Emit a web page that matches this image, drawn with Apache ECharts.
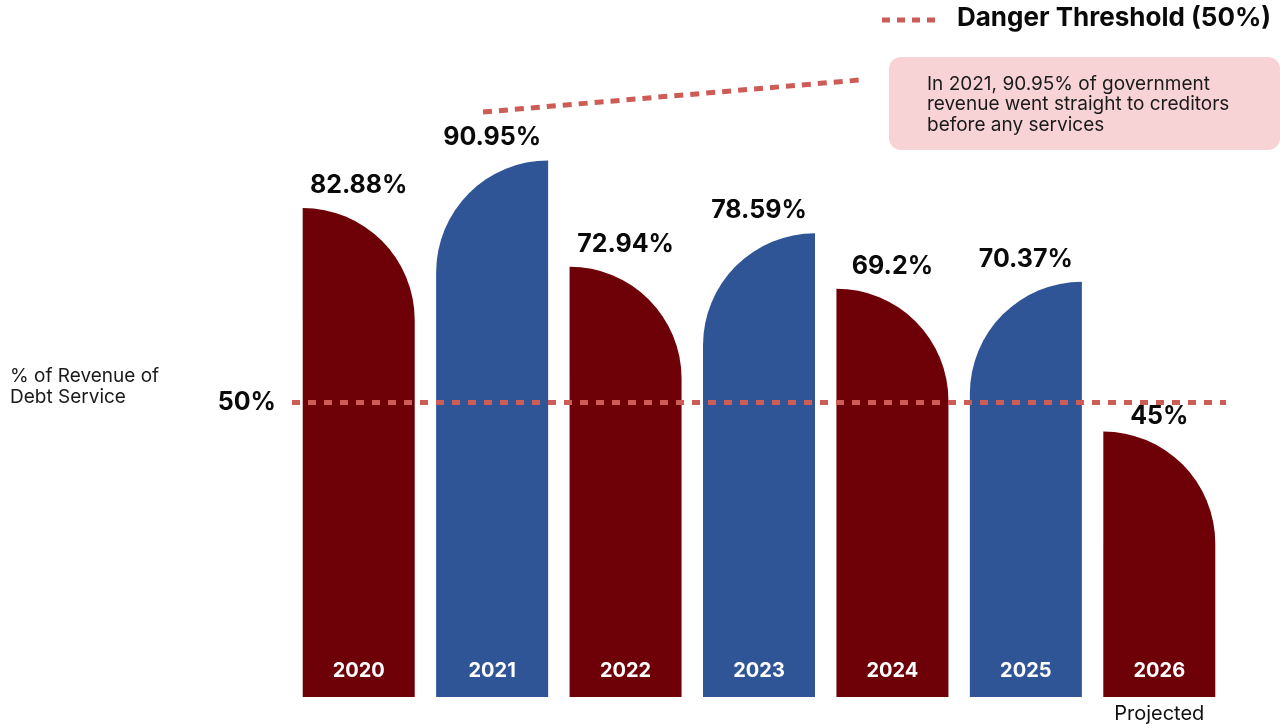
<!DOCTYPE html>
<html>
<head>
<meta charset="utf-8">
<title>Debt Service as % of Revenue</title>
<script src="https://cdn.jsdelivr.net/npm/echarts@6/dist/echarts.min.js"></script>
<style>
  html, body { margin: 0; padding: 0; background: #ffffff; }
  #chart { width: 1280px; height: 728px; }
</style>
</head>
<body>
<div id="chart"></div>
<script>
// Share of government revenue spent on debt service, by year
const years = ['2020', '2021', '2022', '2023', '2024', '2025', '2026'];
const debtServicePct = [82.88, 90.95, 72.94, 78.59, 69.2, 70.37, 45];
const thresholdPct = 50;
const projectedYear = '2026';
const yAxisTitle = ['% of Revenue of', 'Debt Service'];
const legendText = 'Danger Threshold (50%)';
const noteLines = [
  'In 2021, 90.95% of government',
  'revenue went straight to creditors',
  'before any services'
];

const RED = '#6e0008';
const BLUE = '#2f5597';
const DASH = '#cd5c57';
const FONT = 'Inter, "Noto Sans", sans-serif';
const BAR_W = 112;

// Alternate colour and rounded corner: red bars round the top-right, blue the top-left
const barItems = debtServicePct.map((v, i) => {
  const even = i % 2 === 0;
  return {
    value: v,
    itemStyle: {
      color: even ? RED : BLUE,
      borderRadius: even ? [0, BAR_W, 0, 0] : [BAR_W, 0, 0, 0]
    },
    label: { distance: years[i] === projectedYear ? 3 : 10 }
  };
});

const chart = echarts.init(document.getElementById('chart'), null, { renderer: 'canvas' });

chart.setOption({
  animation: false,
  backgroundColor: '#ffffff',
  grid: { left: 292, right: 54, top: 107, bottom: 31, containLabel: false },
  xAxis: [
    {
      type: 'category',
      data: years,
      z: 10,
      axisLine: { show: false },
      axisTick: { show: false },
      axisLabel: {
        inside: true,
        margin: 16,
        color: '#ffffff',
        fontFamily: FONT,
        fontWeight: 'bold',
        fontSize: 20
      }
    },
    {
      type: 'category',
      data: years,
      position: 'bottom',
      axisLine: { show: false },
      axisTick: { show: false },
      axisLabel: {
        margin: 7,
        color: '#111111',
        fontFamily: FONT,
        fontSize: 20,
        letterSpacing: 0.5,
        formatter: (y) => (y === projectedYear ? 'Projected' : '')
      }
    }
  ],
  yAxis: {
    type: 'value',
    min: 0,
    max: 100,
    show: false,
    splitLine: { show: false }
  },
  series: [
    {
      type: 'bar',
      data: barItems,
      barWidth: BAR_W,
      label: {
        show: true,
        position: 'top',
        color: '#0a0a0a',
        fontFamily: FONT,
        fontWeight: 'bold',
        fontSize: 25,
        formatter: (p) => p.value + '%'
      },
      markLine: {
        silent: true,
        symbol: 'none',
        z: 5,
        lineStyle: { color: DASH, width: 5, type: [8, 8], opacity: 1 },
        label: {
          show: true,
          position: 'start',
          distance: 16,
          color: '#0a0a0a',
          fontFamily: FONT,
          fontWeight: 'bold',
          fontSize: 25,
          formatter: thresholdPct + '%'
        },
        data: [{ yAxis: thresholdPct }]
      }
    }
  ],
  graphic: [
    // legend for the threshold line
    {
      type: 'line',
      shape: { x1: 882, y1: 20, x2: 936, y2: 20 },
      style: { stroke: DASH, lineWidth: 5, lineDash: [8, 7] }
    },
    {
      type: 'text',
      left: 957,
      top: 5,
      style: {
        text: legendText,
        fill: '#0a0a0a',
        font: 'bold 26px ' + FONT,
        letterSpacing: 0.3
      }
    },
    // callout connector from the 2021 bar to the note
    {
      type: 'line',
      shape: { x1: 483, y1: 112, x2: 860, y2: 80 },
      style: { stroke: DASH, lineWidth: 5, lineDash: [9, 7] }
    },
    // note box
    {
      type: 'rect',
      shape: { x: 889, y: 57, width: 391, height: 93, r: 12 },
      style: { fill: '#f8d3d6' }
    },
    {
      type: 'text',
      left: 927,
      top: 74,
      style: {
        text: noteLines.join('\n'),
        fill: '#1a1a1a',
        font: '19px ' + FONT,
        letterSpacing: 0.5,
        lineHeight: 20.5
      }
    },
    // axis title on the left
    {
      type: 'text',
      left: 10,
      top: 366,
      style: {
        text: yAxisTitle.join('\n'),
        fill: '#1a1a1a',
        font: '19px ' + FONT,
        letterSpacing: 0.5,
        lineHeight: 21
      }
    }
  ]
});
</script>
</body>
</html>
